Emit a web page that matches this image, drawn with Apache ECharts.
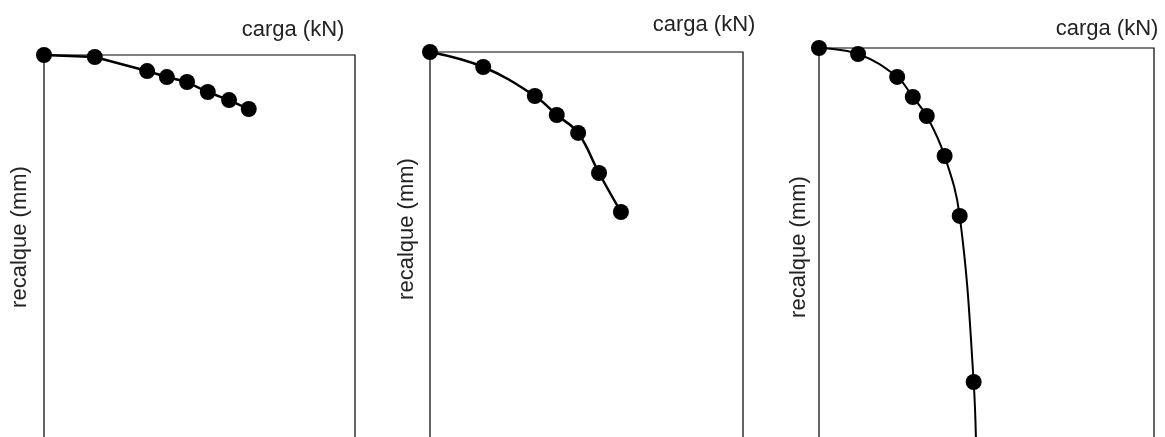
<!DOCTYPE html>
<html>

<head>
  <meta charset="UTF-8">
  <title>carga x recalque</title>
  <script type="text/javascript" src="https://cdn.jsdelivr.net/npm/echarts@6/dist/echarts.min.js"></script>
  <style>
    body { margin: 0; overflow: hidden; background: #fff; }
    #chart { width: 1165px; height: 437px; }
  </style>
</head>

<body>
  <div id="chart"></div>
  <script type="text/javascript">
    // load (kN) and settlement (mm)
    var loadA = [0, 98, 199, 237, 276, 316, 357, 395];
    var settleA = [0, 0.19, 1.52, 2.09, 2.56, 3.51, 4.27, 5.12];

    var loadB = [0, 102, 201, 243, 284, 324, 366];
    var settleB = [0, 1.41, 4.14, 5.93, 7.62, 11.39, 15.06];

    var loadC = [0, 70, 140, 168, 193, 225, 252, 277];
    var settleC = [0, 0.56, 2.70, 4.57, 6.34, 10.07, 15.66, 31.14];
    // curve C keeps going below the last reading, out of the frame
    var tailC = [282, 40];

    var xLabel = 'carga (kN)';
    var yLabel = 'recalque (mm)';
    var loadMax = 600, settleMax = 40;

    // frames run past the bottom of the page, like the cropped original
    var frameBottom = 477;
    var panels = [
      { left: 44, top: 55, width: 311, xs: loadA, ys: settleA, smooth: false, lw: 2.5, xl: [293, 30], yl: [20, 237] },
      { left: 430, top: 52, width: 313, xs: loadB, ys: settleB, smooth: 0.4, lw: 2.5, xl: [704, 25], yl: [407, 229] },
      { left: 819, top: 48, width: 335, xs: loadC, ys: settleC, smooth: 0.4, lw: 2, xl: [1107, 29], yl: [799, 247], tail: tailC }
    ];

    var grids = [], xAxes = [], yAxes = [], series = [], texts = [];
    var font = '22px "Liberation Sans", Arial, sans-serif';

    panels.forEach(function (p, i) {
      grids.push({
        left: p.left, top: p.top, width: p.width, height: frameBottom - p.top,
        outerBoundsMode: 'none',
        show: true, borderColor: '#000', borderWidth: 1.2
      });
      xAxes.push({
        type: 'value', gridIndex: i, position: 'top', min: 0, max: loadMax,
        axisLine: { show: false }, axisTick: { show: false },
        axisLabel: { show: false }, splitLine: { show: false }
      });
      yAxes.push({
        type: 'value', gridIndex: i, inverse: true, min: 0, max: settleMax,
        axisLine: { show: false }, axisTick: { show: false },
        axisLabel: { show: false }, splitLine: { show: false }
      });
      var data = p.xs.map(function (x, k) { return [x, p.ys[k]]; });
      if (p.tail) data.push({ value: p.tail, symbol: 'none' });
      series.push({
        type: 'line', xAxisIndex: i, yAxisIndex: i, data: data,
        smooth: p.smooth, symbol: 'circle', symbolSize: 16,
        lineStyle: { color: '#000', width: p.lw },
        itemStyle: { color: '#000' }
      });
      texts.push({
        type: 'text', x: p.xl[0], y: p.xl[1],
        style: { text: xLabel, font: font, fill: '#222', align: 'center', verticalAlign: 'middle' }
      });
      texts.push({
        type: 'text', x: p.yl[0], y: p.yl[1], rotation: Math.PI / 2,
        style: { text: yLabel, font: font, fill: '#222', align: 'center', verticalAlign: 'middle' }
      });
    });

    var myChart = echarts.init(document.getElementById('chart'));
    myChart.setOption({
      animation: false,
      grid: grids,
      xAxis: xAxes,
      yAxis: yAxes,
      series: series,
      graphic: texts
    });
  </script>
</body>

</html>
